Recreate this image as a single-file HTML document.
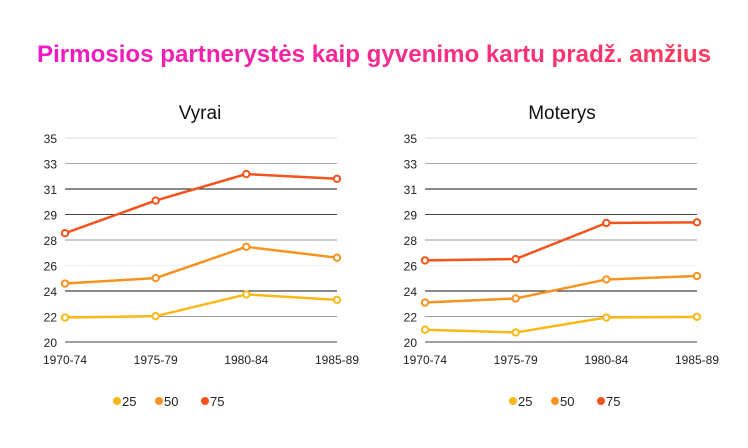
<!DOCTYPE html>
<html><head><meta charset="utf-8"><style>
body{margin:0;background:#fff;font-family:"Liberation Sans",sans-serif}
</style></head><body>
<svg width="748" height="443" viewBox="0 0 748 443">
<defs><linearGradient id="tg" x1="0" x2="1"><stop offset="0" stop-color="#f018c8"/><stop offset="1" stop-color="#ff3c5a"/></linearGradient></defs>
<text x="374" y="62" text-anchor="middle" font-size="24" font-weight="bold" fill="url(#tg)" textLength="674" lengthAdjust="spacingAndGlyphs">Pirmosios partnerystės kaip gyvenimo kartu pradž. amžius</text>
<g id="plots"></g>
</svg>
<script>
const categories=["1970-74","1975-79","1980-84","1985-89"];
const tickLabels=["20","22","24","26","28","29","31","33","35"];
const seriesNames=["25","50","75"];
const vyrai25=[21.8,21.9,23.5,23.1];
const vyrai50=[24.3,24.7,27.0,26.2];
const vyrai75=[28.0,30.4,32.35,32.0];
const moterys25=[20.9,20.7,21.8,21.85];
const moterys50=[22.9,23.2,24.6,24.85];
const moterys75=[26.0,26.1,28.75,28.8];
const colors=["#f9b918","#f89220","#f4541c"];
const gridColors=["#444","#999","#111","#eee","#999","#444","#111","#aaa","#ddd"];
const NS="http://www.w3.org/2000/svg";
const root=document.getElementById("plots");
function mk(t,a,p){const e=document.createElementNS(NS,t);for(const k in a)e.setAttribute(k,a[k]);(p||root).appendChild(e);return e;}
function panel(title,x0,x1,data,legendX,nameKey,titleX){
  const g=mk("g",{});
  
  
  const yScale=v=>342-(v-20)*(204/15);
  const xScale=i=>x0+i*(x1-x0)/3;
  const t=mk("text",{x:titleX,y:119,"text-anchor":"middle","font-size":19,fill:"#111"},g);t.textContent=title;
  
  
  tickLabels.forEach((lb,i)=>{
    const v=20+i*15/8,y=yScale(v);
    const l=mk("line",{x1:x0,x2:x1,y1:y,y2:y,stroke:gridColors[i],"stroke-width":1},g);
    
    
    const tx=mk("text",{x:x0-8,y:y+5,"text-anchor":"end","font-size":12,fill:"#222"},g);tx.textContent=lb;
    
    
  });
  categories.forEach((c,i)=>{
    const tx=mk("text",{x:xScale(i),y:364,"text-anchor":"middle","font-size":12,fill:"#222"},g);tx.textContent=c;
    
    
  });
  data.forEach((s,si)=>{
    const pl=mk("polyline",{points:s.map((v,i)=>xScale(i)+","+yScale(v)).join(" "),fill:"none",stroke:colors[si],"stroke-width":2.5},g);
    
    
    s.forEach((v,i)=>{
      const c=mk("circle",{cx:xScale(i),cy:yScale(v),r:3.2,fill:"#fff",stroke:colors[si],"stroke-width":2},g);
      
      
    });
  });
  const lx=[0,42,88];
  seriesNames.forEach((n,si)=>{
    const c=mk("circle",{cx:legendX+lx[si],cy:401,r:4,fill:colors[si]},g);
    
    
    const tx=mk("text",{x:legendX+lx[si]+5,y:406,"font-size":13,fill:"#222"},g);tx.textContent=n;
    
    
  });
}
panel("Vyrai",65,337,[vyrai25,vyrai50,vyrai75],117,"vyrai",200);
panel("Moterys",425,697,[moterys25,moterys50,moterys75],513,"moterys",562);
</script>
</body></html>
